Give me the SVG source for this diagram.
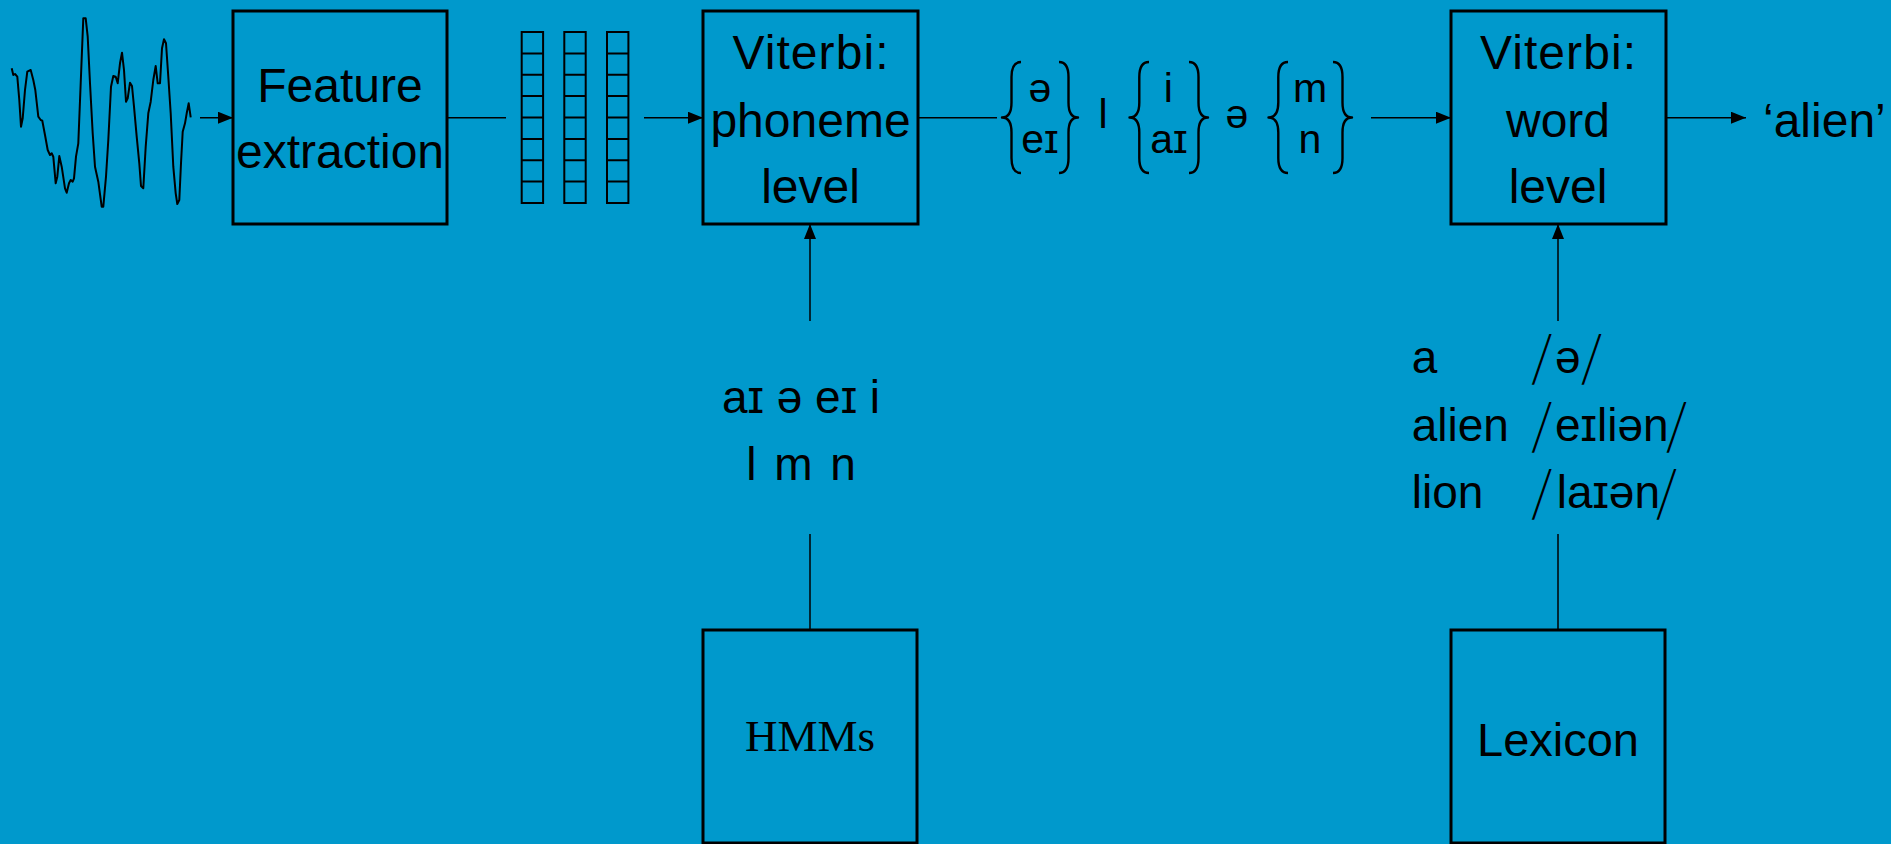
<svg xmlns="http://www.w3.org/2000/svg" width="1891" height="844" viewBox="0 0 1891 844">
<defs>
<style>
.bg{fill:#0099cc}
.box{fill:none;stroke:#000;stroke-width:3}
.cell{fill:none;stroke:#000;stroke-width:2}
.wire{fill:none;stroke:#000;stroke-width:1.5}
.brace{fill:none;stroke:#000;stroke-width:2.4;stroke-linejoin:round}
.t{font-family:"Liberation Sans","DejaVu Sans",sans-serif;fill:#000}
.big{font-size:48px;text-anchor:middle}
.mid{font-size:46px}
.sm{font-size:41px;text-anchor:middle}
.sl{font-family:"Liberation Sans","DejaVu Sans",sans-serif;font-size:30px;fill:#000}
.serif{font-family:"Liberation Serif","DejaVu Serif",serif;font-size:45px;text-anchor:middle;fill:#000}
</style>
<marker id="arr" markerUnits="userSpaceOnUse" markerWidth="16" markerHeight="12" refX="15" refY="6" orient="auto">
<path d="M0,0 L15,6 L0,12 z" fill="#000"/>
</marker>
<g id="col">
<rect class="cell" x="0" y="0" width="21.4" height="171"/>
<path class="cell" d="M0,21.4H21.4M0,42.8H21.4M0,64.1H21.4M0,85.5H21.4M0,106.9H21.4M0,128.3H21.4M0,149.6H21.4"/>
</g>
</defs>
<rect class="bg" x="0" y="0" width="1891" height="844"/>

<g id="waveform">
<polyline fill="none" stroke="#000" stroke-width="2" stroke-linejoin="round" points="11.7,68.3 13.3,75 15,74 17.3,76.7 19.3,100 21,126.7 22.7,118.3 25,90 27.3,71.7 30.7,70 33.3,80 35.3,90 38.3,116.7 40.7,120 42.3,120.7 45,135 47.7,150 50,155 51.7,153.3 53.3,156.7 55.7,183.3 57.3,176.7 59.3,156 61.7,166.7 65,188.3 66.7,192.7 69,183.3 70.7,180 72.7,181.7 74,178.3 76,156.7 78.3,143.3 80.7,83.3 83.3,18.3 85.7,18.3 87.7,36.7 90,83.3 92.7,133.3 95,166.7 98.3,181.7 101.7,206.7 103.3,206.7 106,176.7 108.3,140 111,86.7 113.3,76 115.7,76.7 117.7,83.3 120,63.3 122,52.7 124,70 126,101.7 127.7,98.3 130,82.7 132,86 134,106.7 136.7,136.7 139.3,163.3 141,186 143.3,188.3 145.7,146.7 148.3,113.3 150.7,101.7 153.3,80 155.7,66 157.7,83.3 160,83.3 162,48.3 164,39.3 166,43.3 168.3,76.7 170.7,113.3 173.3,166.7 175.7,193.3 177.3,204 179.3,200 181,163.3 182.7,131.7 185,123.3 186.7,113.3 188.7,103.3 190.7,117.3"/>
</g>

<g id="feature-extraction">
<rect class="box" x="233" y="11" width="214" height="213"/>
<text class="t big" x="340" y="101.7">Feature</text>
<text class="t big" x="340" y="168.3">extraction</text>
</g>

<g id="feature-vectors">
<use href="#col" x="521.7" y="32"/>
<use href="#col" x="564.3" y="32"/>
<use href="#col" x="607" y="32"/>
</g>

<g id="viterbi-phoneme">
<rect class="box" x="703" y="11" width="215" height="213"/>
<text class="t big" x="810.5" y="69" textLength="156" lengthAdjust="spacing">Viterbi:</text>
<text class="t big" x="810.5" y="136.7">phoneme</text>
<text class="t big" x="810.5" y="203.3">level</text>
</g>

<g id="phoneme-lattice">
<path class="brace" d="M1021,62 Q1011.5,62 1011.5,77 L1011.5,102.5 Q1011.5,117.5 1002,117.5 Q1011.5,117.5 1011.5,132.5 L1011.5,158 Q1011.5,173 1021,173"/>
<text class="t sm" x="1040" y="101.7">ə</text>
<text class="t sm" x="1040" y="153.3">eɪ</text>
<path class="brace" d="M1059,62 Q1068.5,62 1068.5,77 L1068.5,102.5 Q1068.5,117.5 1078,117.5 Q1068.5,117.5 1068.5,132.5 L1068.5,158 Q1068.5,173 1059,173"/>
<text class="t sm" x="1103" y="128.3">l</text>
<path class="brace" d="M1149,62 Q1139.3,62 1139.3,77 L1139.3,102.5 Q1139.3,117.5 1129.5,117.5 Q1139.3,117.5 1139.3,132.5 L1139.3,158 Q1139.3,173 1149,173"/>
<text class="t sm" x="1168.3" y="101.7">i</text>
<text class="t sm" x="1169" y="153.3">aɪ</text>
<path class="brace" d="M1189,62 Q1198.5,62 1198.5,77 L1198.5,102.5 Q1198.5,117.5 1208,117.5 Q1198.5,117.5 1198.5,132.5 L1198.5,158 Q1198.5,173 1189,173"/>
<text class="t sm" x="1237" y="128.3">ə</text>
<path class="brace" d="M1288,62 Q1278.3,62 1278.3,77 L1278.3,102.5 Q1278.3,117.5 1268.5,117.5 Q1278.3,117.5 1278.3,132.5 L1278.3,158 Q1278.3,173 1288,173"/>
<text class="t sm" x="1310" y="101.7">m</text>
<text class="t sm" x="1310" y="153.3">n</text>
<path class="brace" d="M1333,62 Q1342.5,62 1342.5,77 L1342.5,102.5 Q1342.5,117.5 1352,117.5 Q1342.5,117.5 1342.5,132.5 L1342.5,158 Q1342.5,173 1333,173"/>
</g>

<g id="viterbi-word">
<rect class="box" x="1451" y="11" width="215" height="213"/>
<text class="t big" x="1558" y="69" textLength="156" lengthAdjust="spacing">Viterbi:</text>
<text class="t big" x="1558" y="136.7">word</text>
<text class="t big" x="1558" y="203.3">level</text>
</g>

<g id="output">
<text class="t" font-size="48" x="1763" y="136.7">‘alien’</text>
</g>

<g id="phoneme-inventory">
<text class="t mid" text-anchor="middle" x="801" y="412.8">aɪ ə eɪ i</text>
<text class="t mid" text-anchor="middle" x="801" y="480.4" word-spacing="5">l m n</text>
</g>

<g id="hmms">
<rect class="box" x="703" y="630" width="214" height="213"/>
<text class="serif" x="810" y="751">HMMs</text>
</g>

<g id="lexicon-entries">
<text class="t mid" x="1411.7" y="372.9">a</text>
<text class="t mid" x="1411.7" y="440.5">alien</text>
<text class="t mid" x="1411.7" y="508">lion</text>
<text class="sl" transform="translate(1532,383.6) scale(1,2.3) skewX(-27.5)">/</text>
<text class="t mid" x="1555" y="372.9">ə</text>
<text class="sl" transform="translate(1581.7,383.6) scale(1,2.3) skewX(-27.5)">/</text>
<text class="sl" transform="translate(1532,451.9) scale(1,2.3) skewX(-27.5)">/</text>
<text class="t mid" x="1555" y="440.5">eɪliən</text>
<text class="sl" transform="translate(1666.7,451.9) scale(1,2.3) skewX(-27.5)">/</text>
<text class="sl" transform="translate(1532,519.4) scale(1,2.3) skewX(-27.5)">/</text>
<text class="t mid" x="1556.7" y="508">laɪən</text>
<text class="sl" transform="translate(1656.7,519.4) scale(1,2.3) skewX(-27.5)">/</text>
</g>

<g id="lexicon">
<rect class="box" x="1451" y="630" width="214" height="213"/>
<text class="t" font-size="47" text-anchor="middle" x="1558" y="756">Lexicon</text>
</g>

<g id="connectors">
<line class="wire" x1="200" y1="117.7" x2="233" y2="117.7" marker-end="url(#arr)"/>
<line class="wire" x1="447" y1="117.7" x2="506" y2="117.7"/>
<line class="wire" x1="644" y1="117.7" x2="703" y2="117.7" marker-end="url(#arr)"/>
<line class="wire" x1="918" y1="117.7" x2="997" y2="117.7"/>
<line class="wire" x1="1371" y1="117.7" x2="1451" y2="117.7" marker-end="url(#arr)"/>
<line class="wire" x1="1666" y1="117.7" x2="1746" y2="117.7" marker-end="url(#arr)"/>
<line class="wire" x1="810" y1="321" x2="810" y2="224" marker-end="url(#arr)"/>
<line class="wire" x1="810" y1="630" x2="810" y2="534"/>
<line class="wire" x1="1558" y1="321" x2="1558" y2="224" marker-end="url(#arr)"/>
<line class="wire" x1="1558" y1="630" x2="1558" y2="534"/>
</g>
</svg>
